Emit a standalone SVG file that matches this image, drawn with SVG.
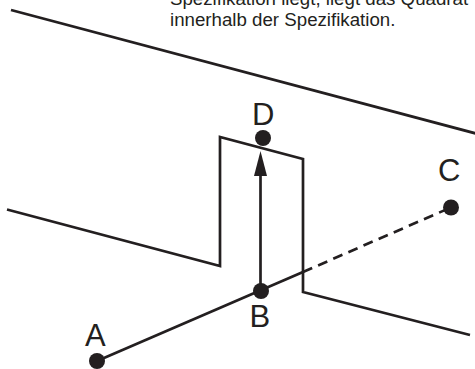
<svg xmlns="http://www.w3.org/2000/svg" width="475" height="369" viewBox="0 0 475 369">
<style>
.l{fill:none;stroke:#231f20;stroke-width:2.7}
.p{fill:#231f20}
.t{font-family:"Liberation Sans",Arial,sans-serif;fill:#231f20}
.n{font-size:31px}
.c{font-size:18.700px}
</style>
<rect width="475" height="369" fill="#fff"/>
<text class="t c" x="170" y="4.500">Spezifikation liegt, liegt das Quadrat</text>
<text class="t c" x="170" y="26">innerhalb der Spezifikation.</text>
<g id="connectors">
<path class="l" d="M11 10L476 133.500"/>
<path class="l" d="M7 209.500L220 266V137L303 159V292L470 335"/>
<path class="l" d="M97 361L303 272"/>
<path class="l" d="M303 272L452 207" stroke-dasharray="10 6.500"/>
<path class="p" d="M260.500 151L267 176H254Z"/>
<path class="l" d="M260.500 291V172"/>
</g>
<g id="A"><circle class="p" cx="97" cy="361" r="8"/><text class="t n" x="85" y="346">A</text></g>
<g id="B"><circle class="p" cx="261" cy="291" r="8"/><text class="t n" x="249.500" y="327">B</text></g>
<g id="C"><circle class="p" cx="451" cy="207.500" r="8"/><text class="t n" x="438" y="181">C</text></g>
<g id="D"><circle class="p" cx="263" cy="138" r="8"/><text class="t n" x="252" y="125">D</text></g>
</svg>
